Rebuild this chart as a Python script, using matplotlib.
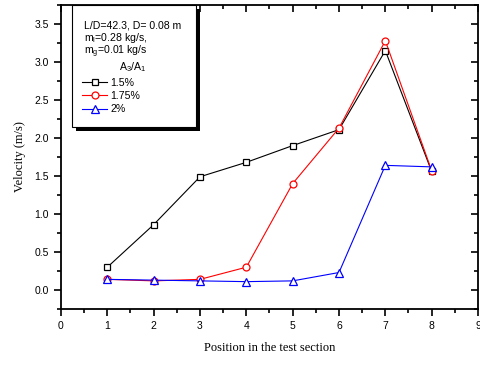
import matplotlib.pyplot as plt
from matplotlib.patches import Rectangle
from matplotlib.ticker import MultipleLocator

positions = [1, 2, 3, 4, 5, 6, 7, 8]
v_15 = [0.30, 0.86, 1.49, 1.68, 1.90, 2.11, 3.15, 1.56]
v_175 = [0.14, 0.12, 0.14, 0.30, 1.40, 2.13, 3.28, 1.57]
v_2 = [0.14, 0.13, 0.12, 0.11, 0.12, 0.23, 1.64, 1.62]
labels = ['1.5%', '1.75%', '2%']

plt.rcParams['font.family'] = 'Liberation Sans'
fig = plt.figure(figsize=(4.81, 3.65), dpi=100)
ax = fig.add_axes([61/481, 56/365, 417/481, 304/365])

l1, = ax.plot(positions, v_15, color='black', lw=0.8, marker='s', ms=4,
              mfc='white', mec='black', mew=0.9)
l2, = ax.plot(positions, v_175, color='red', lw=0.8, marker='o', ms=5,
              mfc='white', mec='red', mew=0.9)
l3, = ax.plot(positions, v_2, color='blue', lw=0.8, marker='^', ms=6,
              mfc='white', mec='blue', mew=0.9)

ax.set_xlim(0, 9)
ax.set_ylim(-0.25, 3.75)
ax.xaxis.set_major_locator(MultipleLocator(1))
ax.xaxis.set_minor_locator(MultipleLocator(0.5))
ax.yaxis.set_major_locator(MultipleLocator(0.5))
ax.yaxis.set_minor_locator(MultipleLocator(0.25))
ax.tick_params(which='both', direction='out', labelsize=7.5, width=1.2)
ax.tick_params(which='major', length=5)
ax.tick_params(which='minor', length=3)
ax.tick_params(which='both', top=True, right=True)
# top / right ticks point inward
for t in ax.xaxis.get_major_ticks() + ax.xaxis.get_minor_ticks():
    t.tick2line.set_marker(3)
for t in ax.yaxis.get_major_ticks() + ax.yaxis.get_minor_ticks():
    t.tick2line.set_marker(0)
for s in ax.spines.values():
    s.set_linewidth(1.3)

ax.set_xlabel('Position in the test section', family='Liberation Serif', fontsize=9, labelpad=8)
ax.set_ylabel('Velocity (m/s)', family='Liberation Serif', fontsize=9, labelpad=6)

# legend box with shadow
def fx(px):
    return (px - 61) / 417
def fy(py):
    return (309 - py) / 304

ax.add_patch(Rectangle((fx(76), fy(131)), fx(200) - fx(76), fy(9) - fy(131),
                       transform=ax.transAxes, fc='black', ec='none', zorder=5, clip_on=False))
ax.add_patch(Rectangle((fx(72), fy(127)), fx(196) - fx(72), fy(5) - fy(127),
                       transform=ax.transAxes, fc='white', ec='black', lw=0.8, zorder=6, clip_on=False))
tk = dict(transform=ax.transAxes, fontsize=7.6, zorder=7, va='center')
ax.text(fx(84), fy(25), 'L/D=42.3, D= 0.08 m', **tk)
ax.text(fx(84), fy(38), 'm$_\\mathregular{l}$=0.28 kg/s,', **tk)
ax.text(fx(84), fy(52), 'm$_\\mathregular{g}$=0.01 kg/s', **tk)
ax.text(fx(119), fy(67), 'A$_\\mathregular{3}$/A$_\\mathregular{1}$', **tk)
leg = ax.legend([l1, l2, l3], labels, loc='upper left', bbox_to_anchor=(fx(82), fy(78)),
                frameon=False, fontsize=7.6, handlelength=2.4, handletextpad=0.3,
                labelspacing=0.3, borderpad=0, borderaxespad=0)
leg.set_zorder(8)

fig.savefig('out.png', dpi=100)
